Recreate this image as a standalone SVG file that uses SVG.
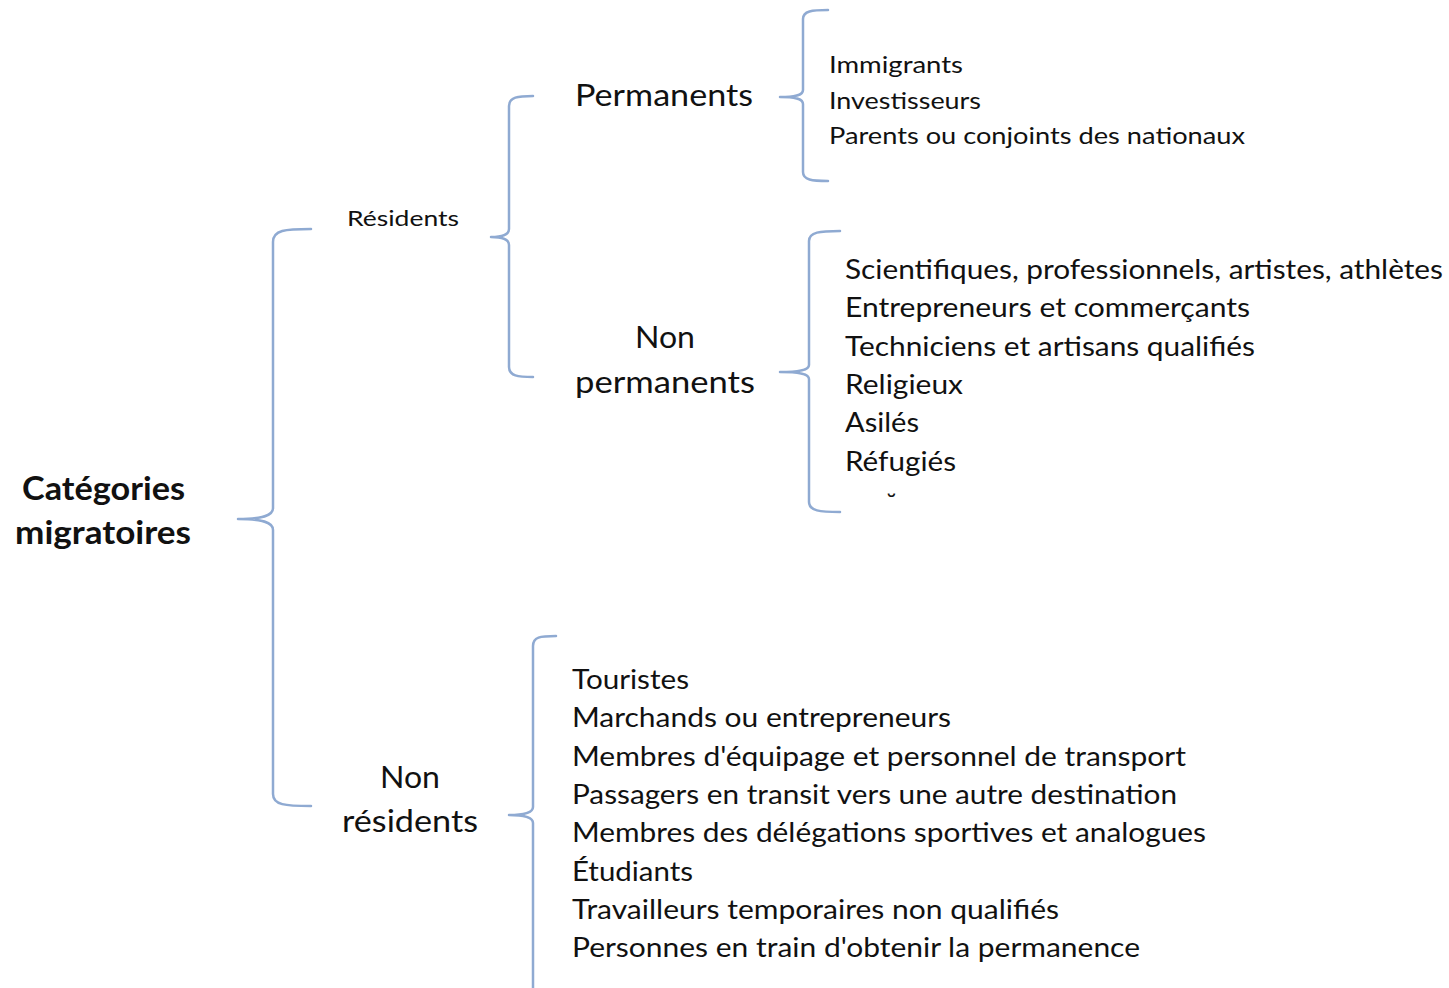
<svg xmlns="http://www.w3.org/2000/svg" width="1449" height="988" viewBox="0 0 1449 988">
<style>
.br{fill:none;stroke:#8FAAD2;stroke-width:2.5;stroke-linecap:round;stroke-linejoin:round}
text{font-family:Lato,"Noto Sans","Liberation Sans",sans-serif;fill:#111}
.l27{font-size:27px}
.l24{font-size:24px}
.l30{font-size:30px}
.l22{font-size:22px}
.b32{font-size:32px;font-weight:bold}
</style>
<rect width="1449" height="988" fill="#fff"/>
<g id="connectors">
<path class="br" d="M311 229 C285 229 273 230 273 242 L273 508 C273 516 262 519 238 519 C262 519 273 522 273 530 L273 794 C273 805 285 806 311 806"/>
<path class="br" d="M533 96 C518 96 509 97 509 106 L509 229 C509 235 503 237 491 237 C503 237 509 239 509 245 L509 367 C509 376 518 377 533 377"/>
<path class="br" d="M828 10 C812 10 803 11 803 19 L803 90 C803 95 797 97 780 97 C797 97 803 99 803 104 L803 172 C803 180 812 181 828 181"/>
<path class="br" d="M840 231 C820 231 809 232 809 241 L809 365 C809 370 800 372 780 372 C800 372 809 374 809 379 L809 502 C809 511 820 512 840 512"/>
<path class="br" d="M556 636 C540 636 533 637 533 646 L533 807 C533 812 525 815 509 815 C525 815 533 818 533 823 L533 990"/>
</g>
<g id="root">
<text class="b32" x="22" y="500" textLength="163" lengthAdjust="spacingAndGlyphs">Catégories</text>
<text class="b32" x="15" y="544" textLength="176" lengthAdjust="spacingAndGlyphs">migratoires</text>
</g>
<g id="residents">
<text class="l22" x="347" y="226" textLength="112" lengthAdjust="spacingAndGlyphs">Résidents</text>
</g>
<g id="permanents">
<text class="l30" x="575" y="106" textLength="178" lengthAdjust="spacingAndGlyphs">Permanents</text>
</g>
<g id="permanents-list">
<text class="l24" x="829" y="73" textLength="134" lengthAdjust="spacingAndGlyphs">Immigrants</text>
<text class="l24" x="829" y="109" textLength="152" lengthAdjust="spacingAndGlyphs">Investisseurs</text>
<text class="l24" x="829" y="144" textLength="416" lengthAdjust="spacingAndGlyphs">Parents ou conjoints des nationaux</text>
</g>
<g id="non-permanents">
<text class="l30" x="635" y="348" textLength="60" lengthAdjust="spacingAndGlyphs">Non</text>
<text class="l30" x="575" y="393" textLength="180" lengthAdjust="spacingAndGlyphs">permanents</text>
</g>
<g id="non-permanents-list">
<text class="l27" x="845" y="279" textLength="598" lengthAdjust="spacingAndGlyphs">Scientifiques, professionnels, artistes, athlètes</text>
<text class="l27" x="845" y="317" textLength="405" lengthAdjust="spacingAndGlyphs">Entrepreneurs et commerçants</text>
<text class="l27" x="845" y="356" textLength="410" lengthAdjust="spacingAndGlyphs">Techniciens et artisans qualifiés</text>
<text class="l27" x="845" y="394" textLength="118" lengthAdjust="spacingAndGlyphs">Religieux</text>
<text class="l27" x="845" y="432" textLength="74" lengthAdjust="spacingAndGlyphs">Asilés</text>
<text class="l27" x="845" y="471" textLength="111" lengthAdjust="spacingAndGlyphs">Réfugiés</text>
<text class="l27" x="886" y="513">˘</text>
</g>
<g id="non-residents">
<text class="l30" x="380" y="788" textLength="60" lengthAdjust="spacingAndGlyphs">Non</text>
<text class="l30" x="342" y="832" textLength="136" lengthAdjust="spacingAndGlyphs">résidents</text>
</g>
<g id="non-residents-list">
<text class="l27" x="572" y="689" textLength="117" lengthAdjust="spacingAndGlyphs">Touristes</text>
<text class="l27" x="572" y="727" textLength="379" lengthAdjust="spacingAndGlyphs">Marchands ou entrepreneurs</text>
<text class="l27" x="572" y="766" textLength="614" lengthAdjust="spacingAndGlyphs">Membres d'équipage et personnel de transport</text>
<text class="l27" x="572" y="804" textLength="605" lengthAdjust="spacingAndGlyphs">Passagers en transit vers une autre destination</text>
<text class="l27" x="572" y="842" textLength="634" lengthAdjust="spacingAndGlyphs">Membres des délégations sportives et analogues</text>
<text class="l27" x="572" y="881" textLength="121" lengthAdjust="spacingAndGlyphs">Étudiants</text>
<text class="l27" x="572" y="919" textLength="487" lengthAdjust="spacingAndGlyphs">Travailleurs temporaires non qualifiés</text>
<text class="l27" x="572" y="957" textLength="568" lengthAdjust="spacingAndGlyphs">Personnes en train d'obtenir la permanence</text>
</g>
</svg>
